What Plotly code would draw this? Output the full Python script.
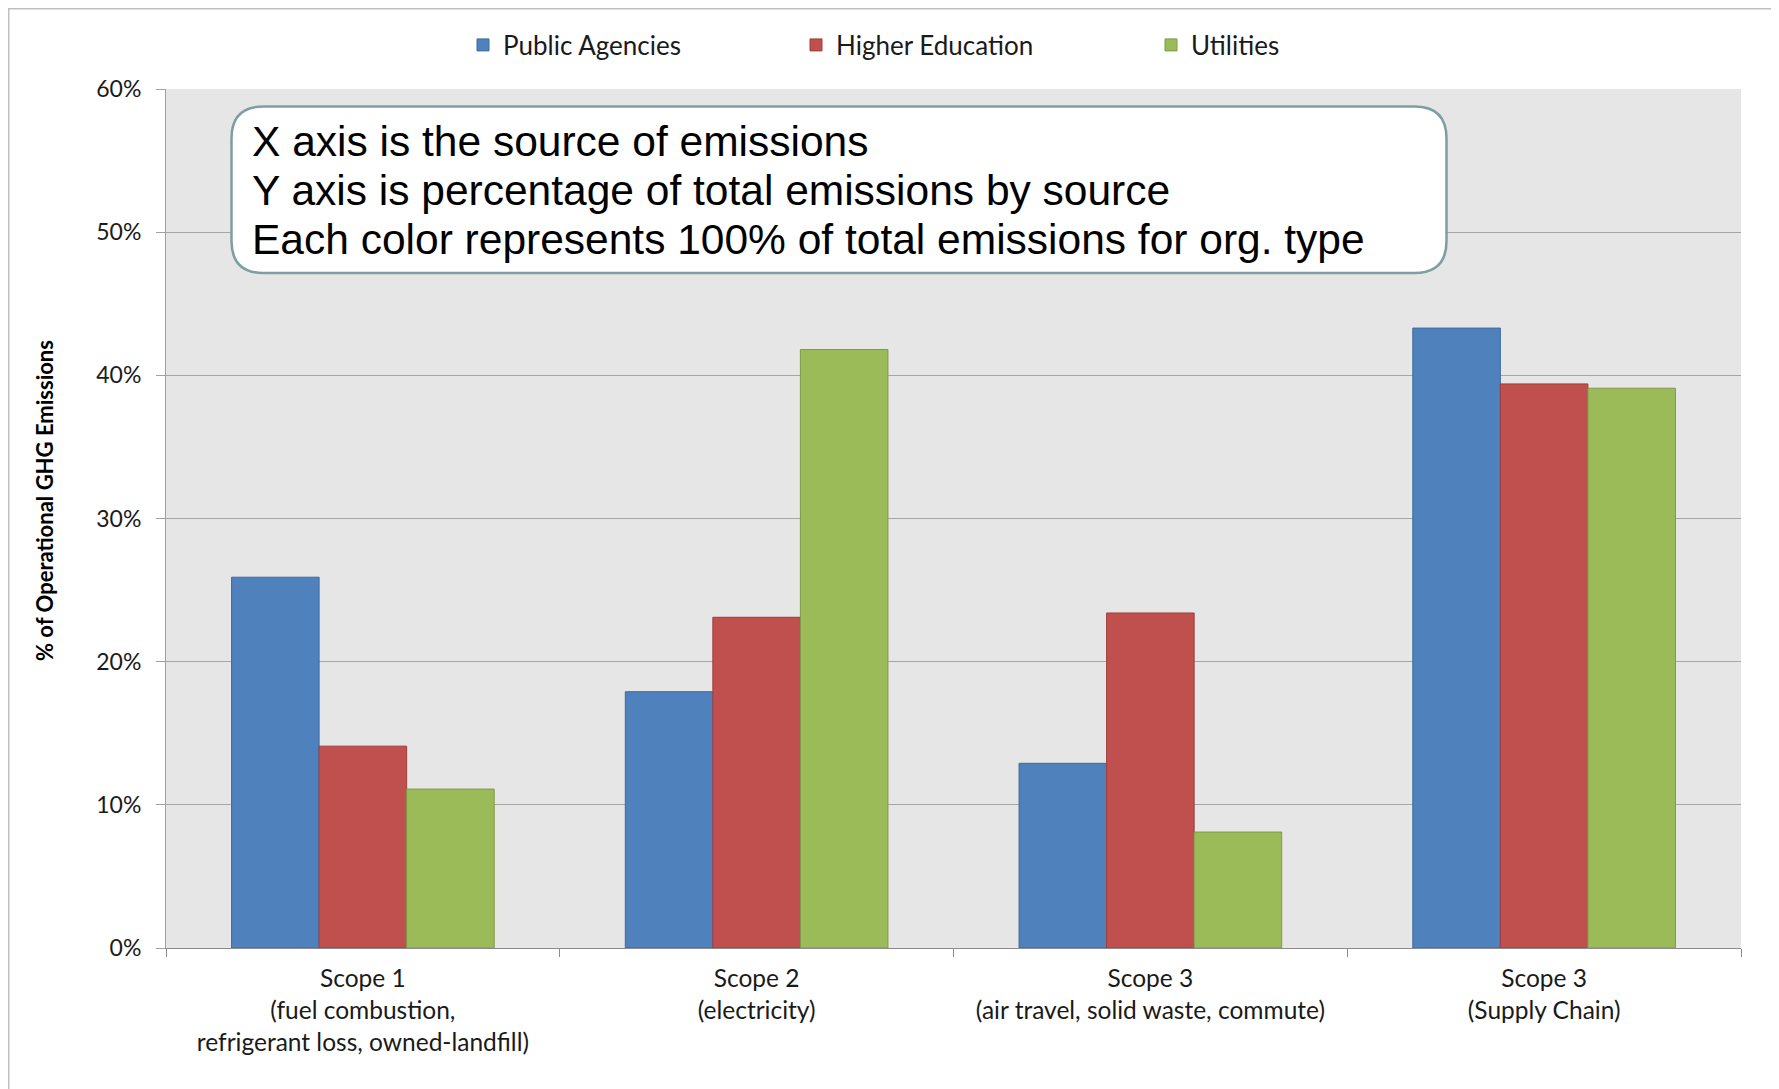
import plotly.graph_objects as go

categories = [
    "Scope 1<br>(fuel combustion,<br>refrigerant loss, owned-landfill)",
    "Scope 2<br>(electricity)",
    "Scope 3<br>(air travel, solid waste, commute)",
    "Scope 3<br>(Supply Chain)",
]
public_agencies = [0.259, 0.179, 0.129, 0.433]
higher_education = [0.141, 0.231, 0.234, 0.394]
utilities = [0.111, 0.418, 0.081, 0.391]

series_names = ["Public Agencies", "Higher Education", "Utilities"]
colors = ["#4F81BD", "#C0504D", "#9BBB59"]
edge_colors = ["#3E6A9E", "#9E3E3B", "#7E9A47"]

box_lines = [
    "X axis is the source of emissions",
    "Y axis is percentage of total emissions by source",
    "Each color represents 100% of total emissions for org. type",
]
y_title = "% of Operational GHG Emissions"

W, H = 1779, 1089
OFF = 8  # page offset of the figure (body margin)
L, T = 158, 81
R = W - (1741 - OFF)
B = H - (948 - OFF)


def px(x):
    """page x -> paper x"""
    return (x - OFF - L) / (W - L - R)


def py(y):
    """page y -> paper y"""
    return (H - B - (y - OFF)) / (H - T - B)


FONT = "Lato, Carlito, Calibri, sans-serif"

fig = go.Figure()
legend_ids = ["legend", "legend2", "legend3"]
for name, vals, c, ec, lg in zip(series_names, [public_agencies, higher_education, utilities],
                                 colors, edge_colors, legend_ids):
    fig.add_trace(go.Bar(x=categories, y=vals, name=name, legend=lg,
                         marker=dict(color=c, line=dict(color=ec, width=1))))

# legends positioned individually (text start positions in page px)
legend_text_x = [503, 836, 1191]
legend_layouts = {}
for lg, tx in zip(legend_ids, legend_text_x):
    legend_layouts[lg] = dict(
        x=px(tx - 40), xanchor="left", y=py(45), yanchor="middle",
        orientation="h", bgcolor="rgba(0,0,0,0)", borderwidth=0,
        font=dict(family=FONT, size=26, color="#1a1a1a"),
    )

shapes = []
# outer chart frame
shapes.append(dict(type="rect", xref="paper", yref="paper",
                   x0=px(OFF + 0.75), x1=px(1772), y0=py(1120), y1=py(OFF + 0.75),
                   line=dict(color="#BFBFBF", width=1.5), fillcolor="rgba(0,0,0,0)", layer="below"))

# rounded text box
bx0, bx1, by0, by1, r = 231.5, 1446.5, 106.5, 273.0, 32
pts = [
    ("M", bx0 + r, by0), ("L", bx1 - r, by0), ("Q", bx1, by0, bx1, by0 + r),
    ("L", bx1, by1 - r), ("Q", bx1, by1, bx1 - r, by1), ("L", bx0 + r, by1),
    ("Q", bx0, by1, bx0, by1 - r), ("L", bx0, by0 + r), ("Q", bx0, by0, bx0 + r, by0),
]
path = ""
for p in pts:
    cmd = p[0]
    coords = p[1:]
    s = " ".join(f"{px(coords[i]):.5f},{py(coords[i+1]):.5f}" for i in range(0, len(coords), 2))
    path += f"{cmd} {s} "
path += "Z"
shapes.append(dict(type="path", xref="paper", yref="paper", path=path,
                   line=dict(color="#7F9EA1", width=2.5), fillcolor="white", layer="above"))

annotations = []
line_y = [141.5, 190.5, 239.5]
for txt, yy in zip(box_lines, line_y):
    annotations.append(dict(text=txt, xref="paper", yref="paper", x=px(250), y=py(yy),
                            xanchor="left", yanchor="middle", showarrow=False, align="left",
                            font=dict(family="Liberation Sans, Arial, sans-serif", size=42.5, color="black")))
annotations.append(dict(text=f"<b>{y_title}</b>", xref="paper", yref="paper", x=px(44), y=py(500),
                        xanchor="center", yanchor="middle", textangle=-90, showarrow=False,
                        font=dict(family=FONT, size=22, color="black")))

fig.update_layout(
    width=W, height=H,
    margin=dict(l=L, r=R, t=T, b=B, pad=0),
    paper_bgcolor="white", plot_bgcolor="#E6E6E6",
    barmode="group", bargap=0.333, bargroupgap=0,
    shapes=shapes, annotations=annotations,
    font=dict(family=FONT, color="#1a1a1a"),
    showlegend=True,
    **legend_layouts,
)
fig.update_xaxes(type="category", tickson="boundaries", ticks="outside", ticklen=8,
                 tickcolor="#8C8C8C", showline=True, linecolor="#8C8C8C", linewidth=1,
                 showgrid=False, ticklabelstandoff=9,
                 tickfont=dict(family=FONT, size=24.5, color="#1a1a1a"))
fig.update_yaxes(range=[0, 0.6], dtick=0.1, tickformat=".0%", ticks="outside", ticklen=9,
                 tickcolor="#A0A0A0", showline=True, linecolor="#A0A0A0", linewidth=1,
                 showgrid=True, gridcolor="#A6A6A6", gridwidth=1, zeroline=False,
                 ticklabelstandoff=10,
                 tickfont=dict(family=FONT, size=23, color="#1a1a1a"))

fig.write_html("out.html")
